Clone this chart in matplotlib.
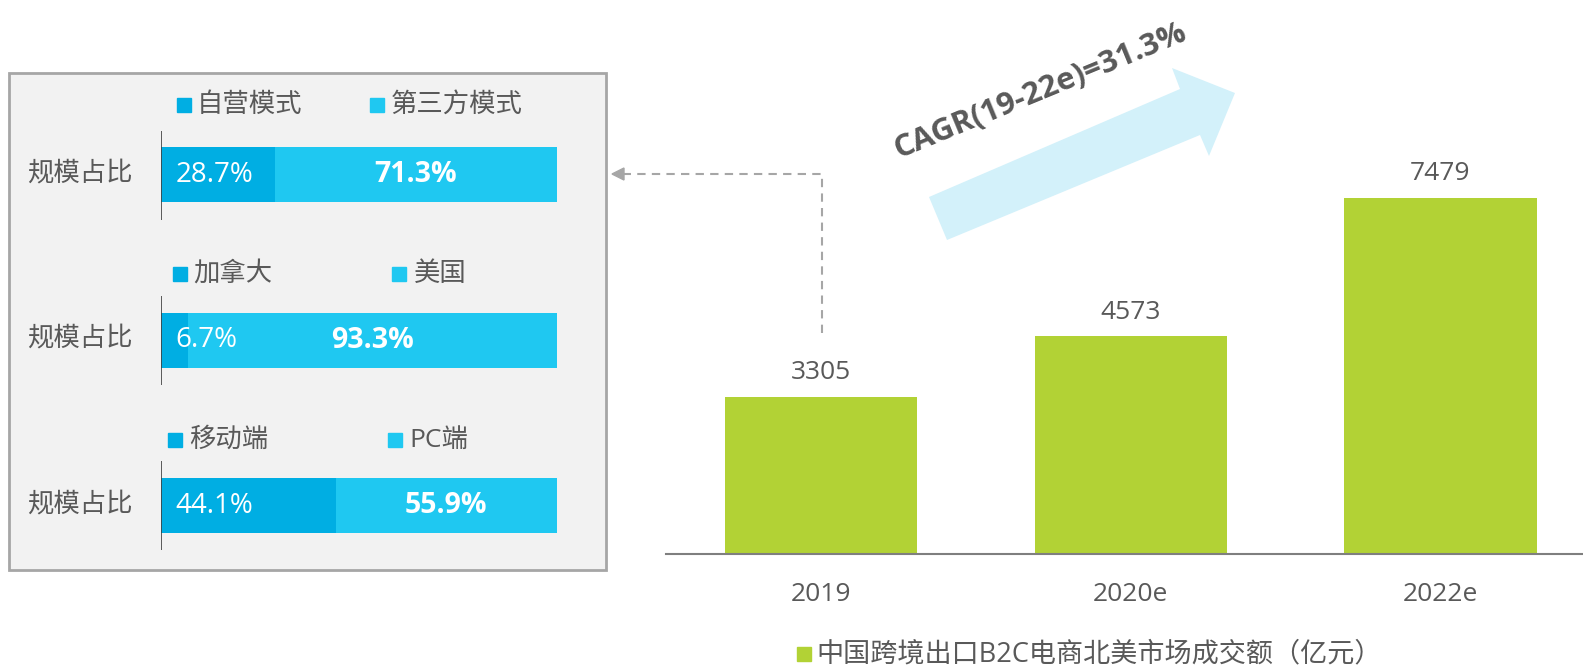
import matplotlib.pyplot as plt
from matplotlib.patches import Rectangle, Polygon
from matplotlib.lines import Line2D

plt.rcParams['font.family'] = ['Open Sans', 'Noto Sans CJK SC', 'DejaVu Sans']

# right panel: market size (100M yuan)
years = ['2019', '2020e', '2022e']
gmv = [3305, 4573, 7479]
gmv_label = '中国跨境出口B2C电商北美市场成交额（亿元）'
cagr_text = 'CAGR(19-22e)=31.3%'

# left panel: share breakdowns
row_label = '规模占比'
first_names = ['自营模式', '加拿大', '移动端']
second_names = ['第三方模式', '美国', 'PC端']
first_share = [28.7, 6.7, 44.1]
second_share = [71.3, 93.3, 55.9]

W, H = 1583, 669
GRAY = '#595959'
DARK = '#00AEE3'
LIGHT = '#1FC8F1'
GREEN = '#B2D235'


def fx(x):
    return x / W


def fy(y):
    return 1 - y / H


fig = plt.figure(figsize=(W / 100, H / 100), dpi=100)

# ---- left box ----
fig.patches.append(Rectangle((fx(9), fy(570)), fx(606) - fx(9), fy(73) - fy(570),
                             transform=fig.transFigure, facecolor='#f2f2f2',
                             edgecolor='#a6a6a6', lw=2, zorder=-5))

axl = fig.add_axes([fx(161), fy(553), fx(557) - fx(161), fy(131) - fy(553)])
axl.set_zorder(2)
axl.set_facecolor('none')
rows = list(range(len(first_share)))
axl.barh(rows, first_share, height=0.333, color=DARK)
axl.barh(rows, second_share, left=first_share, height=0.333, color=LIGHT)
axl.vlines([0] * len(rows), [i - 0.27 for i in rows], [i + 0.27 for i in rows],
           color='#404040', lw=1.2)
axl.set_xlim(0, 100)
axl.set_ylim(2.287, -0.266)
axl.axis('off')
for i in rows:
    axl.text(3.6, i, f'{first_share[i]}%', color='white', fontsize=20, va='center', ha='left')
    axl.text(first_share[i] + second_share[i] / 2, i, f'{second_share[i]}%', color='white',
             fontsize=20.5, fontweight='bold', va='center', ha='center')

for yc in [174, 339, 505]:
    fig.text(fx(27), fy(yc), row_label, fontsize=19, color=GRAY, va='center', ha='left')

legend_rows = [
    (105, 177, 197, 370, 391),
    (274, 173, 193, 392, 414),
    (440, 168, 189, 388, 409),
]
sq = 14
for (yc, s1, t1, s2, t2), n1, n2 in zip(legend_rows, first_names, second_names):
    fig.patches.append(Rectangle((fx(s1), fy(yc + sq / 2)), sq / W, sq / H,
                                 transform=fig.transFigure, color=DARK))
    fig.patches.append(Rectangle((fx(s2), fy(yc + sq / 2)), sq / W, sq / H,
                                 transform=fig.transFigure, color=LIGHT))
    fig.text(fx(t1), fy(yc), n1, fontsize=19, color=GRAY, va='center', ha='left')
    fig.text(fx(t2), fy(yc), n2, fontsize=19, color=GRAY, va='center', ha='left')

# ---- right bar chart ----
ax = fig.add_axes([fx(666), fy(554), 1 - fx(666), fy(0) - fy(554)])
ax.set_facecolor('none')
x = range(len(years))
ax.bar(x, gmv, width=0.62, color=GREEN)
ax.set_xlim(-0.5, 2.46)
ax.set_ylim(0, 554 / 0.0476)
for s in ['top', 'left', 'right']:
    ax.spines[s].set_visible(False)
ax.spines['bottom'].set_color('#7f7f7f')
ax.spines['bottom'].set_linewidth(1.5)
ax.set_yticks([])
ax.set_xticks(list(x))
ax.set_xticklabels(years, fontsize=19, color=GRAY)
ax.tick_params(axis='x', length=0, pad=20)
for i, v in enumerate(gmv):
    ax.annotate(str(v), (i, v), xytext=(0, 17.5), textcoords='offset points',
                ha='center', va='center', fontsize=19, color=GRAY)

# bottom legend
fig.patches.append(Rectangle((fx(797), fy(661)), sq / W, sq / H,
                             transform=fig.transFigure, color=GREEN))
fig.text(fx(816), fy(654), gmv_label, fontsize=19.5, color=GRAY, va='center', ha='left')

# growth arrow
arrow_px = [(929, 197), (1180, 89), (1172, 68), (1235, 93), (1209, 156), (1200, 135), (947, 240)]
fig.patches.append(Polygon([(fx(a), fy(b)) for a, b in arrow_px], closed=True,
                           transform=fig.transFigure, facecolor='#D3F1FA', edgecolor='none'))
fig.text(fx(1040), fy(91), cagr_text, fontsize=22.5, fontweight='bold', color=GRAY,
         rotation=22.4, rotation_mode='anchor', ha='center', va='center')

# dashed connector
fig.lines.append(Line2D([fx(822), fx(822), fx(622)], [fy(333), fy(174), fy(174)],
                        transform=fig.transFigure, color='#a6a6a6', lw=1.5, ls='--',
                        dashes=(4, 3)))
fig.patches.append(Polygon([(fx(612), fy(174)), (fx(624), fy(168)), (fx(624), fy(180))],
                           closed=True, transform=fig.transFigure, color='#a6a6a6'))

fig.savefig('out.png', dpi=100)
